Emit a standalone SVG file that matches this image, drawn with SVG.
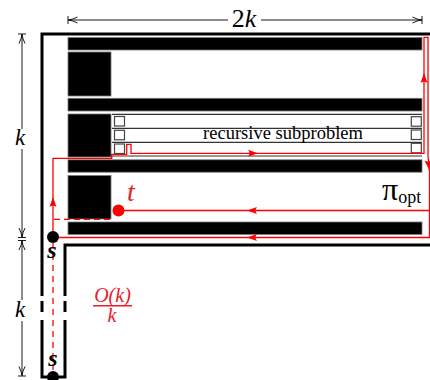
<svg xmlns="http://www.w3.org/2000/svg" width="430" height="380" viewBox="0 0 430 380">
<style>
.wall{stroke:#000;stroke-width:3;fill:none;stroke-linejoin:miter}
.bar{fill:#000;stroke:#777;stroke-width:0.8}
.row{stroke:#333;stroke-width:1.2;fill:none}
.sq{fill:#fff;stroke:#444;stroke-width:1.2}
.dim{stroke:#000;stroke-width:0.9;fill:none}
.red{stroke:#f00;stroke-width:1.3;fill:none}
.lbl{font-family:"Liberation Serif","Times New Roman",serif}
.it{font-style:italic}
.rt{fill:#e8202a}
</style>
<defs>
<path id="ah" d="M0,0 L-10,-3.5 Q-7,0 -10,3.5 Z" fill="#f00"/>
<path id="dh" d="M-9,-3 Q-4,-0.5 0,0 Q-4,0.5 -9,3" fill="none" stroke="#000" stroke-width="0.9"/>
</defs>
<g id="walls">
<path class="wall" d="M430,34 H42 V296 M42,301 V312 M42,320 V377 H65 V320 M65,312 V301 M65,296 V245 H430"/>
</g>
<g id="obstacles">
<rect class="bar" x="68" y="37.5" width="354" height="12.5"/>
<rect class="bar" x="68" y="98.3" width="354" height="12.7"/>
<rect class="bar" x="68" y="159.8" width="354" height="12.4"/>
<rect class="bar" x="68" y="222" width="354" height="12.4"/>
<rect class="bar" x="68" y="52" width="43" height="44"/>
<rect class="bar" x="68" y="114" width="43" height="43"/>
<rect class="bar" x="68" y="175.5" width="43" height="43.5"/>
</g>
<g id="subproblem">
<path class="row" d="M112,114.3 H422 M112,128.3 H422 M112,142.3 H422 M112,156 H422"/>
<rect class="sq" x="114.5" y="116.5" width="10" height="9.5"/>
<rect class="sq" x="114.5" y="130.3" width="10" height="9.5"/>
<rect class="sq" x="114.5" y="144" width="10" height="9.5"/>
<rect class="sq" x="411.3" y="116.7" width="10" height="9.5"/>
<rect class="sq" x="411.3" y="130" width="10" height="9.5"/>
<rect class="sq" x="411.3" y="143.3" width="10" height="9.5"/>
<text class="lbl" x="283" y="139" font-size="18.5" text-anchor="middle">recursive subproblem</text>
</g>
<g id="dimensions">
<path class="dim" d="M68,20 H228 M261,20 H422 M68,16 V24 M422,16 V24"/>
<use href="#dh" transform="translate(68.5,20) rotate(180)"/>
<use href="#dh" transform="translate(421.5,20)"/>
<path class="dim" d="M22,34 V129 M22,149 V237.5 M22,240.5 V300 M22,321 V376 M18,34 H26 M18,237.5 H26 M18,240.5 H26 M18,376 H26"/>
<use href="#dh" transform="translate(22,34.5) rotate(-90)"/>
<use href="#dh" transform="translate(22,237) rotate(90)"/>
<use href="#dh" transform="translate(22,241) rotate(-90)"/>
<use href="#dh" transform="translate(22,375.5) rotate(90)"/>
<text class="lbl" x="244" y="27" font-size="26" text-anchor="middle">2<tspan class="it">k</tspan></text>
<text class="lbl it" x="20" y="145" font-size="23" text-anchor="middle">k</text>
<text class="lbl it" x="20" y="317" font-size="23" text-anchor="middle">k</text>
</g>
<g id="connectors">
<path class="red" d="M53,237 V158.3 H111.7 V154.3 H126.7 V144.3 H131 V153.3 H424 V37.3 H428 V156 L429.5,172 V237.5 H53"/>
<path class="red" d="M429.5,210.5 H124"/>
<path class="red" stroke-dasharray="6,4" d="M54,219.3 H112"/>
<path class="red" stroke-dasharray="6,5" d="M53,243 V377"/>
<use href="#ah" transform="translate(53,197) rotate(-90)"/>
<use href="#ah" transform="translate(258,153.3)"/>
<use href="#ah" transform="translate(424,73) rotate(-90)"/>
<use href="#ah" transform="translate(429.3,170) rotate(82)"/>
<use href="#ah" transform="translate(247,210.5) rotate(180)"/>
<use href="#ah" transform="translate(247,237.5) rotate(180)"/>
<text class="lbl" x="382" y="200" font-size="32">π<tspan font-size="18" dy="3">opt</tspan></text>
</g>
<g id="node-s">
<circle cx="53" cy="237" r="6" fill="#000"/>
<text class="lbl it" x="52" y="258" font-size="24" font-weight="bold" text-anchor="middle">s</text>
</g>
<g id="node-s2">
<circle cx="53" cy="377" r="6" fill="#000"/>
<text class="lbl it" x="53" y="366" font-size="24" font-weight="bold" text-anchor="middle">s</text>
</g>
<g id="node-t">
<circle cx="118.5" cy="210.5" r="6" fill="#f00"/>
<text class="lbl it rt" x="131" y="201" font-size="28" text-anchor="middle">t</text>
</g>
<g id="fraction">
<text class="lbl it rt" x="112.5" y="302" font-size="20" text-anchor="middle">O(k)</text>
<path d="M93,305.7 H132" stroke="#e8202a" stroke-width="1.5"/>
<text class="lbl it rt" x="112" y="322" font-size="20" text-anchor="middle">k</text>
</g>
</svg>
